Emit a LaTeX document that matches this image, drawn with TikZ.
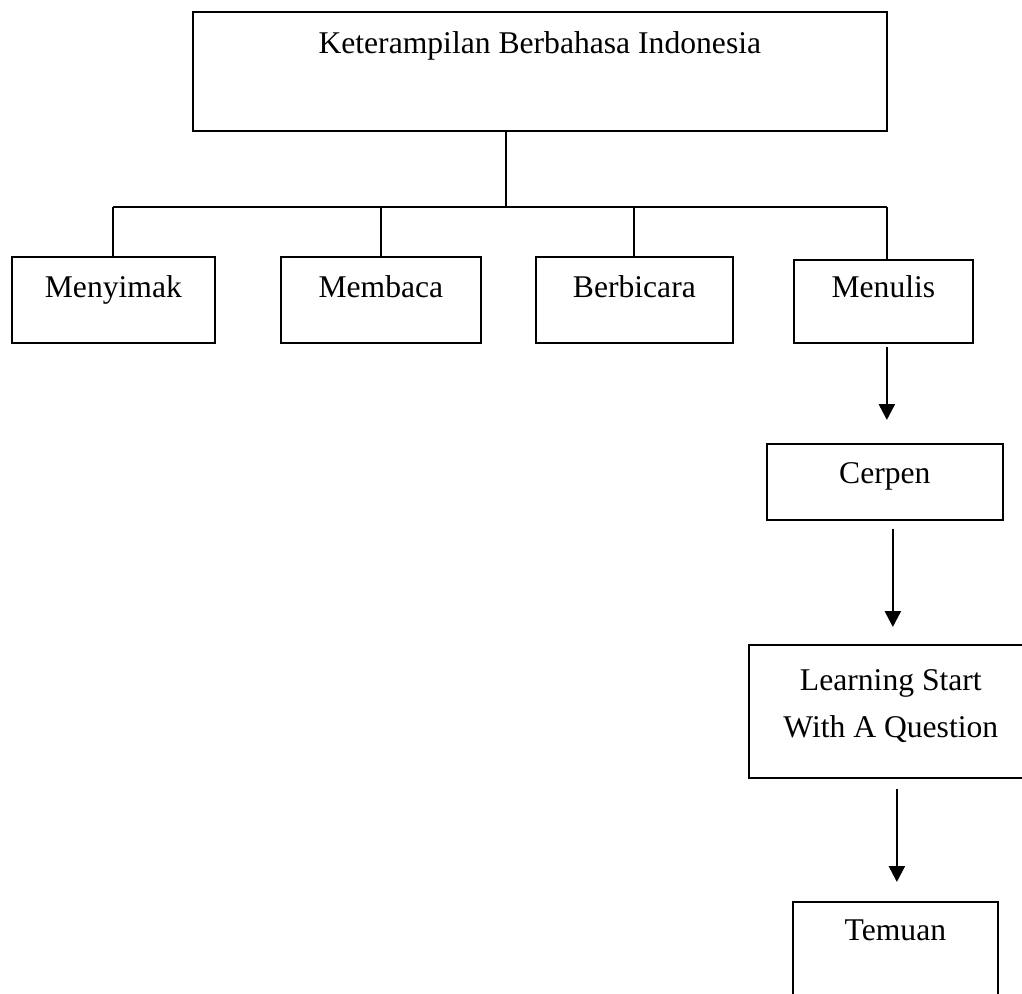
\documentclass[tikz,border=0pt]{standalone}
\usepackage{fontspec}
\setmainfont{Liberation Serif}
\usetikzlibrary{
    arrows.meta,
    positioning,
    calc
}
\tikzset{
    % Boxes
    skill box/.style={draw,line width=1pt,inner sep=0pt,anchor=north west,
        font=\fontsize{18pt}{26.7pt}\selectfont,align=center},
    %
    % Lines and arrows
    tree line/.style={line width=1pt},
    arrow tip/.tip={Triangle[length=0.32cm,width=0.32cm]},
    arr/.style={-{arrow tip},line width=1.4pt}
}

\begin{document}
\begin{tikzpicture}[x=0.02cm,y=-0.02cm]
        \useasboundingbox (0,0) rectangle (1022,994);
        \clip (0,0) rectangle (1022,994);

        % top of the tree
        \node[skill box,minimum width=13.88cm,text height=0.84cm,text depth=1.54cm] (skill) at (192,11) {Keterampilan Berbahasa Indonesia};

        % the four skills
        \node[skill box,minimum width=4.06cm,text height=0.82cm,text depth=0.90cm] (menyimak) at (11,256) {Menyimak};
        \node[skill box,minimum width=4.00cm,text height=0.82cm,text depth=0.90cm] (membaca) at (280,256) {Membaca};
        \node[skill box,minimum width=3.94cm,text height=0.82cm,text depth=0.90cm] (berbicara) at (535,256) {Berbicara};
        \node[skill box,minimum width=3.58cm,text height=0.76cm,text depth=0.90cm] (menulis) at (793,259) {Menulis};

        % chain under Menulis
        \node[skill box,minimum width=4.72cm,text height=0.80cm,text depth=0.72cm] (cerpen) at (766,443) {Cerpen};
        \node[skill box,minimum width=5.68cm,text height=1.86cm,text depth=0.80cm] (lsq) at (748,644) {Learning Start\\With A Question};
        \node[skill box,minimum width=4.10cm,text height=0.78cm,text depth=2.00cm] (temuan) at (792,901) {Temuan};

        \coordinate (bus) at (506,207);
        \draw[tree line] (bus |- skill.south) -- (bus);
        \draw[tree line] (menyimak.north |- bus) -- ([xshift=0.07cm]menulis.north |- bus);
        \foreach \n in {menyimak,membaca,berbicara}
            \draw[tree line] (\n.north) -- (\n.north |- bus);
        \draw[tree line] ([xshift=0.07cm]menulis.north) -- ([xshift=0.07cm]menulis.north |- bus);

        \draw[arr,shorten <=0.06cm,shorten >=0.46cm] ([xshift=0.07cm]menulis.south) -- ([xshift=0.07cm]menulis.south |- cerpen.north);
        \draw[arr,shorten <=0.16cm,shorten >=0.34cm] ([xshift=0.16cm]cerpen.south) -- ([xshift=0.16cm]cerpen.south |- lsq.north);
        \draw[arr,shorten <=0.20cm,shorten >=0.38cm] ([xshift=0.03cm]temuan.north |- lsq.south) -- ([xshift=0.03cm]temuan.north);
    \end{tikzpicture}
\end{document}
